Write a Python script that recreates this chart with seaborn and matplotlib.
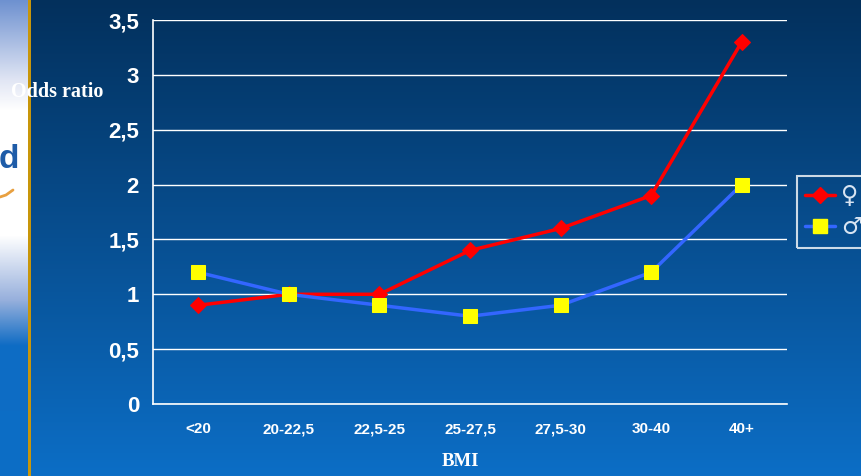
import numpy as np
import matplotlib
matplotlib.use('Agg')
import matplotlib.pyplot as plt
import seaborn as sns
from matplotlib.lines import Line2D

# Data
categories = ['<20', '20-22,5', '22,5-25', '25-27,5', '27,5-30', '30-40', '40+']
female = [0.9, 1.0, 1.0, 1.4, 1.6, 1.9, 3.3]
male = [1.2, 1.0, 0.9, 0.8, 0.9, 1.2, 2.0]
y_ticks = [0, 0.5, 1, 1.5, 2, 2.5, 3, 3.5]
y_labels = ['0', '0,5', '1', '1,5', '2', '2,5', '3', '3,5']

sns.set_style('white')
plt.rcParams['font.family'] = ['Liberation Sans', 'DejaVu Sans']
plt.rcParams['font.weight'] = 'bold'

W, H = 862, 476
fig = plt.figure(figsize=(W / 100, H / 100), dpi=100)

# background gradient (whole slide)
bg = fig.add_axes([0, 0, 1, 1])
bg.set_axis_off()
rows = np.linspace(0, 1, H)[:, None]
top = np.array([3, 48, 92]) / 255
bot = np.array([12, 110, 198]) / 255
grad = top + (bot - top) * rows
img = np.repeat(grad[:, None, :], W, axis=1).reshape(H, W, 3)

# left strip with the light logo area
ys = np.arange(H)
stops_y = [0, 80, 110, 235, 300, 345, H]
stops_c = np.array([[110, 145, 208], [225, 230, 244], [255, 255, 255],
                    [255, 255, 255], [150, 175, 220], [14, 108, 196], [12, 110, 198]]) / 255
strip = np.stack([np.interp(ys, stops_y, stops_c[:, k]) for k in range(3)], axis=1)
img[:, :28, :] = strip[:, None, :]
img[:, 28:31, :] = np.array([200, 150, 10]) / 255
bg.imshow(img, extent=[0, W, H, 0], aspect='auto')
bg.set_xlim(0, W)
bg.set_ylim(H, 0)
bg.text(-1, 160, 'd', color='#1e5ca8', fontsize=24, va='center', ha='left')
bg.plot([0, 6, 13], [197, 195, 190], color='#e8a040', lw=2)

# main chart
ax = fig.add_axes([153 / W, (H - 404) / H, (787 - 153) / W, (404 - 20) / H])
ax.patch.set_alpha(0)

sns.lineplot(x=categories, y=female, ax=ax, color='#ff0000', lw=2.5,
             marker='D', markersize=8, markeredgecolor='#ff0000', zorder=3)
sns.lineplot(x=categories, y=male, ax=ax, color='#3366ff', lw=2.5,
             marker='s', markersize=10, markerfacecolor='#ffff00',
             markeredgecolor='#ffff00', zorder=4)

ax.set_xlim(-0.5, len(categories) - 0.5)
ax.set_ylim(0, 3.5)
ax.set_yticks(y_ticks, labels=y_labels, fontsize=16, fontweight='heavy', color='white')
ax.grid(axis='y', color='white', lw=1)
ax.grid(axis='x', visible=False)
for s in ['top', 'right']:
    ax.spines[s].set_visible(False)
for s in ['left', 'bottom']:
    ax.spines[s].set_color('white')
    ax.spines[s].set_linewidth(1.2)

ax.tick_params(axis='y', colors='white', length=6, width=1, pad=4)
ax.set_xticks(range(len(categories)), labels=categories, fontsize=11,
              fontweight='heavy', color='white')
ax.tick_params(axis='x', which='major', length=0, pad=13)
ax.set_xticks(np.arange(-0.5, len(categories)), minor=True)
ax.tick_params(axis='x', which='minor', length=4, width=1, colors='white', direction='out')
ax.set_xlabel('')
ax.set_ylabel('')

fig.text(57 / W, 1 - 92 / H, 'Odds ratio', color='white', fontsize=14.5,
         fontweight='bold', family='Liberation Serif', ha='center', va='center')
fig.text(460 / W, 1 - 462 / H, 'BMI', color='white', fontsize=13.5,
         fontweight='bold', family='Liberation Serif', ha='center', va='center')

handles = [Line2D([], [], color='#ff0000', lw=2.5, marker='D', markersize=8),
           Line2D([], [], color='#3366ff', lw=2.5, marker='s', markersize=10,
                  markerfacecolor='#ffff00', markeredgecolor='#ffff00')]
leg = fig.legend(handles, ['\u2640', '\u2642'], loc='upper left',
                 bbox_to_anchor=(797 / W, 1 - 176 / H), borderaxespad=0,
                 frameon=True, fancybox=False, handlelength=1.25,
                 handletextpad=0.25, borderpad=0.35, labelspacing=0.3,
                 prop={'family': 'DejaVu Sans', 'size': 17, 'weight': 'normal'})
leg.get_frame().set_facecolor('none')
leg.get_frame().set_edgecolor('white')
leg.get_frame().set_linewidth(1.5)
for t in leg.get_texts():
    t.set_color('#d8e4f2')

fig.savefig('out.png', dpi=100)
